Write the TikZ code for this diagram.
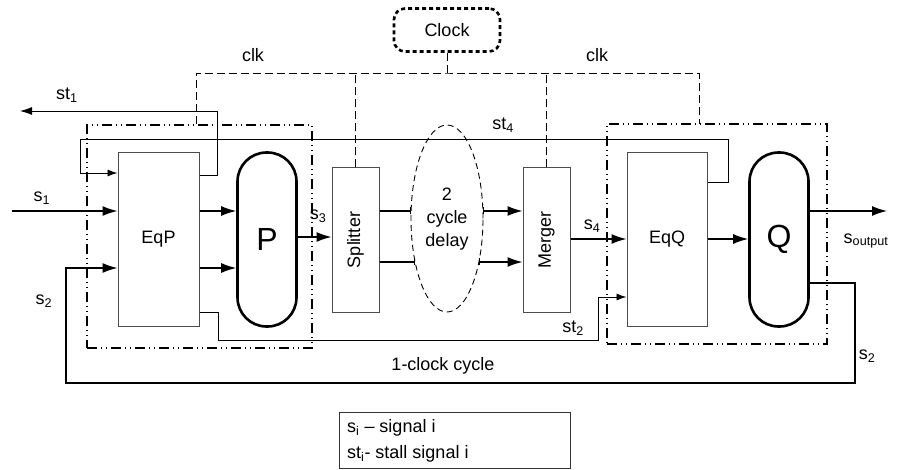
\documentclass[tikz,border=0pt]{standalone}
\usepackage{fontspec}
\setmainfont{Liberation Sans}
\usetikzlibrary{arrows.meta,shapes.geometric}
\tikzset{
  lbl/.style={font=\fontsize{18}{21}\selectfont, inner sep=0pt},
  blk/.style={draw=black!70, line width=1pt, minimum width=#1, inner sep=0pt},
  pill/.style={draw, line width=2.6pt, rounded corners=29pt, minimum width=59pt, minimum height=174pt, inner sep=0pt, font=\fontsize{32}{34}\selectfont},
  stage/.style={draw, line width=1.6pt, dash pattern=on 10pt off 4pt on 1pt off 4pt on 1pt off 4pt, minimum width=#1, inner sep=0pt},
  clkline/.style={line width=0.9pt, dash pattern=on 8pt off 4pt},
  sig/.style={line width=1.4pt, -{Latex[length=15pt,width=10pt]}},
  sigp/.style={line width=1.4pt},
  thin/.style={line width=0.9pt},
  thinarr/.style={line width=0.9pt, -{Latex[length=10pt,width=7pt]}},
}
\begin{document}
\begin{tikzpicture}[x=1pt,y=-1pt]
\useasboundingbox (0,0) rectangle (899,470);
% stage boxes
\node[stage=225pt, minimum height=223pt] (boxP) at (199.5,236.5) {};
\node[stage=220pt, minimum height=220pt] (boxQ) at (717,234) {};
% clock
\node[draw, line width=2.6pt, dash pattern=on 4pt off 3pt, rounded corners=11pt, minimum width=106pt, minimum height=43pt, lbl] (ck) at (447,30) {Clock};
% blocks
\node[blk=81pt, minimum height=173pt, lbl] (eqp) at (158.5,239.5) {EqP};
\node[pill] (p) at (267,239.5) {P};
\node[blk=47pt, minimum height=144pt] (sp) at (355.5,240) {};
\node[lbl, rotate=90] at (sp.center) {Splitter};
\node[draw, dash pattern=on 6pt off 4pt, line width=0.9pt, ellipse, minimum width=72pt, minimum height=187pt, inner sep=0pt] (dl) at (447,218.5) {};
\node[lbl, align=center, text width=60pt, font=\fontsize{18}{23}\selectfont] at (447,219) {2\\cycle\\delay};
\node[blk=47pt, minimum height=144pt] (mg) at (546.5,240) {};
\node[lbl, rotate=90] at (mg.center) {Merger};
\node[blk=80pt, minimum height=173pt, lbl] (eqq) at (667,239.5) {EqQ};
\node[pill] (q) at (779,239.5) {Q};
% clock lines
\coordinate (clkL) at (196,124);
\coordinate (clkR) at (699,124);
\draw[clkline] (ck.south) -- (ck.south |- 0,73);
\draw[clkline] (clkL) |- (ck.south |- 0,73) -| (clkR);
\draw[clkline] (sp.north) -- (sp.north |- 0,73);
\draw[clkline] (mg.north) -- (mg.north |- 0,73);
\node[lbl] at (253,55) {clk};
\node[lbl] at (597,55) {clk};
% s1
\coordinate (s1in) at (12,211);
\draw[sig] (s1in) -- (eqp.west |- s1in);
\node[lbl] at (42,198) {s\textsubscript{1}};
% EqP -> P
\draw[sig] (eqp.east |- 0,211) -- (p.west |- 0,211);
\draw[sig] (eqp.east |- 0,268) -- (p.west |- 0,268);
% P -> Splitter
\draw[sig] (p.east |- 0,237) -- (sp.west |- 0,237);
\node[lbl] at (318,216) {s\textsubscript{3}};
% Splitter -> delay -> Merger
\draw[sigp, -{Bar[width=7pt]}] (sp.east |- 0,211) -- (411,211);
\draw[sigp, -{Bar[width=7pt]}] (sp.east |- 0,262) -- (415,262);
\draw[sigp, {Bar[width=7pt]}-{Latex[length=15pt,width=10pt]}] (483,211) -- (mg.west |- 0,211);
\draw[sigp, {Bar[width=7pt]}-{Latex[length=15pt,width=10pt]}] (479,262) -- (mg.west |- 0,262);
% Merger -> EqQ
\draw[sig] (mg.east |- 0,239) -- (eqq.west |- 0,239);
\node[lbl] at (592,226) {s\textsubscript{4}};
% EqQ -> Q
\draw[sig] (eqq.east |- 0,239) -- (q.west |- 0,239);
% Q -> output
\coordinate (sout) at (887,211);
\draw[sig] (q.east |- sout) -- (sout);
\node[lbl] at (866,241) {s\textsubscript{output}};
% s2 loop
\draw[sig] (q.east |- 0,283) -| (855,383) -| (66,268) -- (eqp.west |- 0,268);
\node[lbl] at (44,301) {s\textsubscript{2}};
\node[lbl] at (867,356) {s\textsubscript{2}};
\node[lbl] at (443,366) {1-clock cycle};
% st1
\coordinate (st1out) at (20,111);
\draw[thin, -{Latex[length=12pt,width=8pt]}] (eqp.east |- 0,175) -| (217,111) -- (st1out);
\node[lbl] at (67,95) {st\textsubscript{1}};
% st4
\draw[thinarr] (eqq.east |- 0,182) -| (728,139) -| (80,173) -- (eqp.west |- 0,173);
\node[lbl] at (503,125) {st\textsubscript{4}};
% st2
\draw[thinarr] (eqp.east |- 0,312) -| (218,340) -| (598,297) -- (eqq.west |- 0,297);
\node[lbl] at (573,328) {st\textsubscript{2}};
% legend
\node[draw=black!80, line width=1pt, minimum width=231pt, minimum height=56pt, inner sep=0pt] (leg) at (454.5,440) {};
\node[lbl, anchor=base west] at (347,432) {s\textsubscript{i} -- signal i};
\node[lbl, anchor=base west] at (347,458) {st\textsubscript{i}- stall signal i};
\end{tikzpicture}
\end{document}
